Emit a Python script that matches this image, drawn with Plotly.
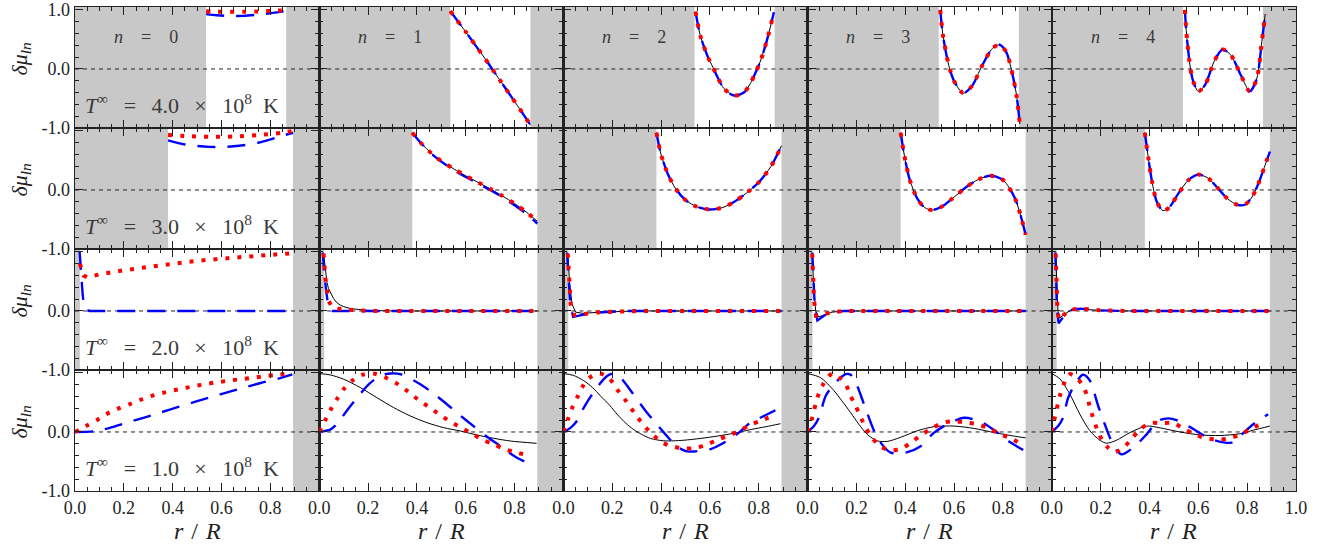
import plotly.graph_objects as go
from plotly.subplots import make_subplots

# ---------------- data ----------------
temperature_labels = ["4.0", "3.0", "2.0", "1.0"]   # T^inf / 1e8 K, rows top -> bottom
mode_numbers = [0, 1, 2, 3, 4]                       # columns
shade_left = [0.537, 0.381, 0.02, 0.0]               # r/R where unshaded region begins
shade_right = [0.865, 0.893, 0.893, 0.893]           # r/R where unshaded region ends
x_tick_vals = [0.0, 0.2, 0.4, 0.6, 0.8]
x_tick_text = ["0.0", "0.2", "0.4", "0.6", "0.8"]
y_tick_vals = [-1.0, 0.0, 1.0]
y_tick_text = ["-1.0", "0.0", "1.0"]

# ---- row 1: T = 4.0e8 K ----
T4_n0_r = [0.537, 0.58, 0.62, 0.69, 0.745, 0.81, 0.86]
T4_n0_blue = [0.93, 0.91, 0.90, 0.90, 0.92, 0.95, 0.98]
T4_n0_red = [0.98, 0.97, 0.97, 0.97, 0.975, 0.985, 0.995]

T4_n1_r = [0.537, 0.56, 0.60, 0.64, 0.68, 0.71, 0.74, 0.78, 0.82, 0.865]
T4_n1_v = [0.98, 0.85, 0.63, 0.40, 0.17, -0.01, -0.19, -0.43, -0.67, -0.95]

T4_n2_r = [0.541, 0.561, 0.59, 0.612, 0.635, 0.657, 0.698, 0.739, 0.765, 0.787, 0.81, 0.835, 0.862]
T4_n2_v = [0.97, 0.56, 0.22, 0.03, -0.17, -0.33, -0.45, -0.40, -0.25, -0.06, 0.17, 0.51, 0.96]

T4_n3_r = [0.543, 0.554, 0.568, 0.582, 0.603, 0.638, 0.673, 0.715, 0.757, 0.785, 0.813, 0.834, 0.855, 0.869]
T4_n3_v = [1.0, 0.58, 0.25, 0.0, -0.23, -0.41, -0.29, 0.06, 0.35, 0.41, 0.29, 0.0, -0.43, -0.93]

T4_n4_r = [0.545, 0.552, 0.568, 0.58, 0.60, 0.629, 0.664, 0.699, 0.734, 0.776, 0.811, 0.839, 0.86, 0.874]
T4_n4_v = [1.0, 0.58, 0.0, -0.22, -0.38, -0.26, 0.12, 0.33, 0.23, -0.12, -0.38, -0.17, 0.46, 0.93]

# ---- row 2: T = 3.0e8 K ----
T3_n0_r = [0.381, 0.45, 0.55, 0.65, 0.75, 0.85, 0.893]
T3_n0_red = [0.93, 0.915, 0.90, 0.905, 0.93, 0.97, 1.0]
T3_n0_blue = [0.84, 0.77, 0.73, 0.74, 0.80, 0.92, 0.97]

T3_n1_r = [0.381, 0.42, 0.46, 0.50, 0.55, 0.60, 0.65, 0.70, 0.75, 0.80, 0.85, 0.893]
T3_n1_v = [0.97, 0.78, 0.62, 0.49, 0.36, 0.24, 0.13, 0.02, -0.10, -0.23, -0.38, -0.53]
T3_n1_blue = [0.97, 0.78, 0.61, 0.48, 0.34, 0.22, 0.11, 0.0, -0.12, -0.26, -0.41, -0.57]

T3_n2_r = [0.381, 0.40, 0.43, 0.46, 0.50, 0.55, 0.60, 0.65, 0.70, 0.75, 0.80, 0.85, 0.893]
T3_n2_v = [0.97, 0.60, 0.25, 0.02, -0.17, -0.29, -0.33, -0.30, -0.20, -0.05, 0.13, 0.40, 0.75]

T3_n3_r = [0.381, 0.40, 0.42, 0.45, 0.48, 0.51, 0.55, 0.60, 0.65, 0.70, 0.75, 0.80, 0.85, 0.893]
T3_n3_v = [0.97, 0.50, 0.15, -0.15, -0.30, -0.34, -0.28, -0.12, 0.05, 0.18, 0.24, 0.17, -0.15, -0.76]

T3_n4_r = [0.381, 0.395, 0.41, 0.43, 0.455, 0.48, 0.52, 0.56, 0.60, 0.64, 0.68, 0.72, 0.76, 0.79, 0.82, 0.85, 0.87, 0.893]
T3_n4_v = [0.97, 0.55, 0.15, -0.20, -0.35, -0.30, -0.05, 0.17, 0.26, 0.20, 0.03, -0.15, -0.25, -0.25, -0.12, 0.15, 0.38, 0.65]

# ---- row 3: T = 2.0e8 K ----
T2_n0_red_r = [0.02, 0.035, 0.05, 0.10, 0.20, 0.30, 0.40, 0.50, 0.60, 0.70, 0.80, 0.89]
T2_n0_red_v = [0.80, 0.60, 0.57, 0.62, 0.69, 0.75, 0.80, 0.85, 0.89, 0.92, 0.95, 0.98]
T2_n0_blue_r = [0.019, 0.022, 0.027, 0.031, 0.036, 0.045, 0.06, 0.893]
T2_n0_blue_v = [1.0, 0.80, 0.55, 0.30, 0.10, 0.02, 0.0, 0.0]

T2_n1_black_r = [0.018, 0.025, 0.032, 0.038, 0.05, 0.059, 0.07, 0.086, 0.10, 0.127, 0.15, 0.20, 0.30, 0.893]
T2_n1_black_v = [0.97, 0.66, 0.48, 0.38, 0.27, 0.21, 0.15, 0.10, 0.075, 0.04, 0.03, 0.01, 0.0, 0.0]
T2_n1_blue_r = [0.015, 0.02, 0.029, 0.038, 0.045, 0.055, 0.893]
T2_n1_blue_v = [0.99, 0.66, 0.32, 0.07, 0.02, 0.0, 0.0]
T2_n1_red_r = [0.018, 0.02, 0.025, 0.031, 0.038, 0.05, 0.072, 0.12, 0.20, 0.893]
T2_n1_red_v = [0.97, 0.77, 0.56, 0.38, 0.18, 0.08, 0.04, 0.02, 0.0, 0.0]

T2_n2_black_r = [0.018, 0.025, 0.035, 0.05, 0.08, 0.15, 0.30, 0.893]
T2_n2_black_v = [0.97, 0.50, 0.12, -0.02, -0.04, -0.02, 0.0, 0.0]
T2_n2_blue_r = [0.015, 0.02, 0.028, 0.04, 0.07, 0.12, 0.25, 0.893]
T2_n2_blue_v = [0.99, 0.55, 0.10, -0.10, -0.07, -0.03, 0.0, 0.0]
T2_n2_red_r = [0.018, 0.022, 0.03, 0.045, 0.08, 0.15, 0.30, 0.893]
T2_n2_red_v = [0.97, 0.60, 0.10, -0.07, -0.05, -0.02, 0.0, 0.0]

T2_n3_black_r = [0.019, 0.025, 0.033, 0.045, 0.06, 0.10, 0.15, 0.893]
T2_n3_black_v = [0.97, 0.40, 0.0, -0.10, -0.08, -0.02, 0.0, 0.0]
T2_n3_blue_r = [0.019, 0.023, 0.029, 0.04, 0.067, 0.108, 0.15, 0.893]
T2_n3_blue_v = [0.99, 0.55, 0.10, -0.16, -0.08, -0.02, 0.0, 0.0]
T2_n3_red_r = [0.019, 0.022, 0.026, 0.034, 0.05, 0.10, 0.15, 0.893]
T2_n3_red_v = [0.97, 0.60, 0.20, -0.08, -0.07, -0.02, 0.0, 0.0]

T2_n4_black_r = [0.016, 0.02, 0.025, 0.032, 0.05, 0.08, 0.12, 0.20, 0.30, 0.893]
T2_n4_black_v = [0.97, 0.50, 0.0, -0.12, -0.06, 0.02, 0.03, 0.01, 0.0, 0.0]
T2_n4_blue_r = [0.015, 0.018, 0.021, 0.028, 0.046, 0.066, 0.115, 0.20, 0.30, 0.893]
T2_n4_blue_v = [0.99, 0.55, 0.05, -0.21, -0.10, 0.01, 0.04, 0.01, 0.0, 0.0]
T2_n4_red_r = [0.016, 0.019, 0.023, 0.03, 0.045, 0.07, 0.12, 0.20, 0.30, 0.893]
T2_n4_red_v = [0.97, 0.55, 0.0, -0.15, -0.08, 0.02, 0.04, 0.01, 0.0, 0.0]

# ---- row 4: T = 1.0e8 K ----
T1_n0_red_r = [0.0, 0.045, 0.089, 0.127, 0.171, 0.22, 0.264, 0.31, 0.357, 0.404, 0.45, 0.50, 0.547, 0.594, 0.64, 0.69, 0.74, 0.786, 0.83, 0.88]
T1_n0_red_v = [0.0, 0.10, 0.20, 0.30, 0.385, 0.465, 0.54, 0.605, 0.66, 0.705, 0.745, 0.785, 0.82, 0.85, 0.875, 0.90, 0.925, 0.95, 0.97, 0.995]
T1_n0_blue_r = [0.0, 0.075, 0.143, 0.198, 0.28, 0.35, 0.42, 0.49, 0.56, 0.63, 0.70, 0.76, 0.83, 0.89]
T1_n0_blue_v = [0.0, 0.01, 0.07, 0.14, 0.24, 0.33, 0.42, 0.51, 0.595, 0.68, 0.76, 0.83, 0.90, 0.975]

T1_n1_black_r = [0.0, 0.045, 0.10, 0.168, 0.236, 0.305, 0.373, 0.441, 0.51, 0.578, 0.646, 0.714, 0.783, 0.89]
T1_n1_black_v = [0.99, 0.967, 0.894, 0.753, 0.582, 0.413, 0.271, 0.158, 0.073, 0.017, -0.051, -0.107, -0.153, -0.192]
T1_n1_red_r = [0.0, 0.0246, 0.0478, 0.072, 0.0997, 0.134, 0.175, 0.222, 0.266, 0.311, 0.352, 0.389, 0.427, 0.468, 0.507, 0.548, 0.589, 0.63, 0.671, 0.714, 0.762, 0.81, 0.854]
T1_n1_red_v = [0.0, 0.198, 0.385, 0.554, 0.723, 0.865, 0.967, 0.99, 0.933, 0.837, 0.723, 0.599, 0.486, 0.368, 0.255, 0.147, 0.057, -0.039, -0.135, -0.208, -0.293, -0.35, -0.395]
T1_n1_blue_r = [0.0, 0.045, 0.072, 0.113, 0.161, 0.206, 0.25, 0.291, 0.332, 0.414, 0.462, 0.523, 0.571, 0.632, 0.687, 0.742, 0.803, 0.871]
T1_n1_blue_v = [0.0, 0.04, 0.13, 0.36, 0.61, 0.82, 0.95, 0.99, 0.98, 0.81, 0.67, 0.47, 0.30, 0.10, -0.08, -0.24, -0.42, -0.56]

T1_n2_black_r = [0.0, 0.04, 0.083, 0.12, 0.152, 0.19, 0.22, 0.255, 0.288, 0.32, 0.357, 0.411, 0.45, 0.493, 0.56, 0.63, 0.70, 0.766, 0.83, 0.889]
T1_n2_black_v = [0.99, 0.96, 0.87, 0.75, 0.61, 0.45, 0.30, 0.15, 0.04, -0.04, -0.11, -0.15, -0.15, -0.14, -0.11, -0.07, -0.02, 0.04, 0.09, 0.14]
T1_n2_red_r = [0.0, 0.018, 0.036, 0.056, 0.077, 0.108, 0.149, 0.19, 0.22, 0.25, 0.305, 0.336, 0.37, 0.404, 0.452, 0.493, 0.541, 0.589, 0.637, 0.684, 0.725, 0.766, 0.814, 0.855]
T1_n2_red_v = [0.0, 0.21, 0.41, 0.58, 0.76, 0.92, 0.99, 0.90, 0.72, 0.56, 0.24, 0.08, -0.06, -0.18, -0.25, -0.28, -0.27, -0.21, -0.12, -0.05, 0.03, 0.12, 0.20, 0.27]
T1_n2_blue_r = [0.0, 0.029, 0.056, 0.083, 0.131, 0.179, 0.206, 0.234, 0.281, 0.336, 0.37, 0.418, 0.466, 0.507, 0.534, 0.603, 0.671, 0.719, 0.76, 0.821, 0.889]
T1_n2_blue_v = [0.0, 0.07, 0.19, 0.41, 0.72, 0.95, 0.99, 0.92, 0.67, 0.36, 0.19, -0.04, -0.25, -0.33, -0.33, -0.29, -0.15, -0.01, 0.14, 0.27, 0.41]

T1_n3_black_r = [0.0, 0.053, 0.108, 0.14, 0.176, 0.21, 0.244, 0.285, 0.326, 0.381, 0.449, 0.518, 0.60, 0.682, 0.764, 0.846, 0.893]
T1_n3_black_v = [0.99, 0.92, 0.70, 0.53, 0.33, 0.13, -0.04, -0.15, -0.16, -0.09, 0.02, 0.09, 0.10, 0.06, -0.01, -0.07, -0.10]
T1_n3_red_r = [0.0, 0.019, 0.04, 0.06, 0.087, 0.105, 0.128, 0.156, 0.176, 0.197, 0.238, 0.265, 0.299, 0.343, 0.381, 0.429, 0.47, 0.511, 0.559, 0.60, 0.647, 0.695, 0.743, 0.791, 0.839, 0.88]
T1_n3_red_v = [0.0, 0.24, 0.58, 0.78, 0.95, 0.99, 0.93, 0.81, 0.61, 0.44, 0.07, -0.10, -0.25, -0.31, -0.29, -0.16, -0.04, 0.07, 0.16, 0.18, 0.16, 0.13, 0.06, -0.04, -0.12, -0.22]
T1_n3_blue_r = [0.0, 0.026, 0.046, 0.074, 0.108, 0.156, 0.176, 0.203, 0.231, 0.272, 0.299, 0.34, 0.402, 0.463, 0.518, 0.559, 0.641, 0.716, 0.777, 0.832, 0.893]
T1_n3_blue_v = [0.0, 0.10, 0.24, 0.61, 0.81, 0.98, 0.97, 0.78, 0.47, 0.02, -0.18, -0.35, -0.35, -0.24, -0.01, 0.10, 0.24, 0.16, -0.01, -0.18, -0.33]

T1_n4_black_r = [0.0, 0.033, 0.074, 0.115, 0.156, 0.197, 0.224, 0.265, 0.32, 0.388, 0.443, 0.525, 0.607, 0.689, 0.77, 0.825, 0.893]
T1_n4_black_v = [0.99, 0.90, 0.64, 0.30, 0.02, -0.14, -0.19, -0.14, -0.01, 0.10, 0.07, 0.0, -0.05, -0.06, -0.03, 0.03, 0.10]
T1_n4_red_r = [0.0, 0.012, 0.033, 0.049, 0.074, 0.108, 0.135, 0.162, 0.194, 0.224, 0.258, 0.30, 0.33, 0.363, 0.404, 0.449, 0.497, 0.538, 0.586, 0.627, 0.675, 0.723, 0.768, 0.811, 0.852]
T1_n4_red_v = [0.0, 0.24, 0.61, 0.81, 0.98, 0.89, 0.72, 0.33, -0.04, -0.24, -0.34, -0.24, -0.10, 0.05, 0.15, 0.15, 0.15, 0.06, -0.04, -0.10, -0.13, -0.11, -0.05, 0.04, 0.13]
T1_n4_blue_r = [0.0, 0.026, 0.046, 0.067, 0.101, 0.128, 0.156, 0.19, 0.217, 0.251, 0.285, 0.34, 0.388, 0.436, 0.477, 0.511, 0.572, 0.627, 0.675, 0.736, 0.77, 0.825, 0.886]
T1_n4_blue_v = [0.0, 0.10, 0.24, 0.58, 0.85, 0.97, 0.87, 0.44, 0.13, -0.21, -0.38, -0.24, -0.04, 0.19, 0.23, 0.20, 0.07, -0.07, -0.15, -0.18, -0.07, 0.13, 0.30]

# (row, col, series, r, value) -- which list goes in which panel
SERIES = [
    (1, 1, "blue", T4_n0_r, T4_n0_blue), (1, 1, "red", T4_n0_r, T4_n0_red),
    (1, 2, "black", T4_n1_r, T4_n1_v), (1, 2, "blue", T4_n1_r, T4_n1_v), (1, 2, "red", T4_n1_r, T4_n1_v),
    (1, 3, "black", T4_n2_r, T4_n2_v), (1, 3, "blue", T4_n2_r, T4_n2_v), (1, 3, "red", T4_n2_r, T4_n2_v),
    (1, 4, "black", T4_n3_r, T4_n3_v), (1, 4, "blue", T4_n3_r, T4_n3_v), (1, 4, "red", T4_n3_r, T4_n3_v),
    (1, 5, "black", T4_n4_r, T4_n4_v), (1, 5, "blue", T4_n4_r, T4_n4_v), (1, 5, "red", T4_n4_r, T4_n4_v),
    (2, 1, "blue", T3_n0_r, T3_n0_blue), (2, 1, "red", T3_n0_r, T3_n0_red),
    (2, 2, "black", T3_n1_r, T3_n1_v), (2, 2, "blue", T3_n1_r, T3_n1_blue), (2, 2, "red", T3_n1_r, T3_n1_v),
    (2, 3, "black", T3_n2_r, T3_n2_v), (2, 3, "blue", T3_n2_r, T3_n2_v), (2, 3, "red", T3_n2_r, T3_n2_v),
    (2, 4, "black", T3_n3_r, T3_n3_v), (2, 4, "blue", T3_n3_r, T3_n3_v), (2, 4, "red", T3_n3_r, T3_n3_v),
    (2, 5, "black", T3_n4_r, T3_n4_v), (2, 5, "blue", T3_n4_r, T3_n4_v), (2, 5, "red", T3_n4_r, T3_n4_v),
    (3, 1, "blue", T2_n0_blue_r, T2_n0_blue_v), (3, 1, "red", T2_n0_red_r, T2_n0_red_v),
    (3, 2, "black", T2_n1_black_r, T2_n1_black_v), (3, 2, "blue", T2_n1_blue_r, T2_n1_blue_v), (3, 2, "red", T2_n1_red_r, T2_n1_red_v),
    (3, 3, "black", T2_n2_black_r, T2_n2_black_v), (3, 3, "blue", T2_n2_blue_r, T2_n2_blue_v), (3, 3, "red", T2_n2_red_r, T2_n2_red_v),
    (3, 4, "black", T2_n3_black_r, T2_n3_black_v), (3, 4, "blue", T2_n3_blue_r, T2_n3_blue_v), (3, 4, "red", T2_n3_red_r, T2_n3_red_v),
    (3, 5, "black", T2_n4_black_r, T2_n4_black_v), (3, 5, "blue", T2_n4_blue_r, T2_n4_blue_v), (3, 5, "red", T2_n4_red_r, T2_n4_red_v),
    (4, 1, "blue", T1_n0_blue_r, T1_n0_blue_v), (4, 1, "red", T1_n0_red_r, T1_n0_red_v),
    (4, 2, "black", T1_n1_black_r, T1_n1_black_v), (4, 2, "blue", T1_n1_blue_r, T1_n1_blue_v), (4, 2, "red", T1_n1_red_r, T1_n1_red_v),
    (4, 3, "black", T1_n2_black_r, T1_n2_black_v), (4, 3, "blue", T1_n2_blue_r, T1_n2_blue_v), (4, 3, "red", T1_n2_red_r, T1_n2_red_v),
    (4, 4, "black", T1_n3_black_r, T1_n3_black_v), (4, 4, "blue", T1_n3_blue_r, T1_n3_blue_v), (4, 4, "red", T1_n3_red_r, T1_n3_red_v),
    (4, 5, "black", T1_n4_black_r, T1_n4_black_v), (4, 5, "blue", T1_n4_blue_r, T1_n4_blue_v), (4, 5, "red", T1_n4_red_r, T1_n4_red_v),
]

# ---------------- figure ----------------
W, H = 1324, 550
M_L, M_R, M_T, M_B = 75, 28, 7, 59
NR, NC = 4, 5
Y_RANGE = [-1.0, 1.05]
SERIF = "Liberation Serif, DejaVu Serif, serif"
AXC = "#222222"
TXT = "#3a3a3a"

fig = make_subplots(rows=NR, cols=NC, horizontal_spacing=0, vertical_spacing=0)

line_style = {
    "black": dict(color="#000000", width=1.0),
    "blue": dict(color="#0000ff", width=2.4, dash="18px,12px"),
    "red": dict(color="#ff0000", width=4.0, dash="4px,8px"),
}
order = {"black": 0, "blue": 1, "red": 2}
for row, col, kind, rr, vv in sorted(SERIES, key=lambda s: order[s[2]]):
    # the sharp near-centre spikes of the 2e8 K row are drawn piecewise-linear to avoid spline overshoot
    shape = dict(shape="linear") if row == 3 else dict(shape="spline", smoothing=0.8)
    fig.add_trace(
        go.Scatter(x=rr, y=vv, mode="lines",
                   line=dict(**shape, **line_style[kind]),
                   showlegend=False, hoverinfo="skip", cliponaxis=True),
        row=row, col=col)


def ax_id(row, col):
    k = (row - 1) * NC + col
    return "" if k == 1 else str(k)


shapes = []
annotations = []
for row in range(1, NR + 1):
    for col in range(1, NC + 1):
        a = ax_id(row, col)
        xr, yr = "x" + a, "y" + a
        # shaded (excluded) regions
        if shade_left[row - 1] > 0:
            shapes.append(dict(type="rect", xref=xr, yref=yr + " domain", x0=0, x1=shade_left[row - 1],
                               y0=0, y1=1, fillcolor="#c8c8c8", line=dict(width=0), layer="below"))
        shapes.append(dict(type="rect", xref=xr, yref=yr + " domain", x0=shade_right[row - 1], x1=1.0,
                           y0=0, y1=1, fillcolor="#c8c8c8", line=dict(width=0), layer="below"))
        # zero line
        shapes.append(dict(type="line", xref=xr + " domain", yref=yr, x0=0, x1=1, y0=0, y1=0,
                           line=dict(color=AXC, width=1, dash="4px,4px"), layer="below"))

        tv = list(x_tick_vals) + ([1.0] if col == NC else [])
        tt = list(x_tick_text) + (["1.0"] if col == NC else [])
        fig.update_xaxes(row=row, col=col, range=[0, 1], tickmode="array", tickvals=tv, ticktext=tt,
                         showticklabels=(row == NR), ticks="inside", ticklen=8, tickwidth=1, tickcolor=AXC,
                         minor=dict(dtick=0.05, tick0=0, ticks="inside", ticklen=4, tickwidth=1, tickcolor=AXC),
                         showline=True, linecolor=AXC, linewidth=1.3, mirror="allticks",
                         showgrid=False, zeroline=False, automargin=False,
                         tickfont=dict(family=SERIF, size=18, color=AXC))
        ytt = list(y_tick_text) if row == 1 else [y_tick_text[0], y_tick_text[1], ""]
        fig.update_yaxes(row=row, col=col, range=Y_RANGE, tickmode="array", tickvals=y_tick_vals, ticktext=ytt,
                         showticklabels=(col == 1), ticks="inside", ticklen=8, tickwidth=1, tickcolor=AXC,
                         minor=dict(dtick=0.2, tick0=0, ticks="inside", ticklen=4, tickwidth=1, tickcolor=AXC),
                         showline=True, linecolor=AXC, linewidth=1.3, mirror="allticks",
                         showgrid=False, zeroline=False, automargin=False,
                         tickfont=dict(family=SERIF, size=18, color=AXC))

# mode labels (top row)
for col in range(1, NC + 1):
    a = ax_id(1, col)
    annotations.append(dict(xref="x" + a, yref="y" + a, x=0.29, y=0.55, showarrow=False,
                            text="<i>n</i>\u2003=\u2003" + str(mode_numbers[col - 1]),
                            font=dict(family=SERIF, size=18, color=TXT)))
# temperature labels (first column)
for row in range(1, NR + 1):
    a = ax_id(row, 1)
    annotations.append(dict(xref="x" + a, yref="y" + a, x=0.44, y=-0.6, showarrow=False,
                            text="<i>T</i><sup>\u221e</sup>\u2002\u2009=\u2002\u2009" + temperature_labels[row - 1]
                                 + "\u2002\u2009\u00d7\u2002\u200910<sup>8</sup>\u2002K",
                            font=dict(family=SERIF, size=22, color=TXT)))
# y titles
plot_h = H - M_T - M_B
for row in range(1, NR + 1):
    yc_px = M_T + plot_h * (row - 0.5) / NR - 9
    annotations.append(dict(xref="paper", yref="paper", x=(20 - M_L) / (W - M_L - M_R),
                            y=1 - (yc_px - M_T) / plot_h, showarrow=False, textangle=-90,
                            xanchor="center", yanchor="middle",
                            text="<i>\u03b4\u03bc<sub>ln</sub></i>",
                            font=dict(family=SERIF, size=22, color=AXC)))
# x titles
for col in range(1, NC + 1):
    annotations.append(dict(xref="paper", yref="paper", x=(col - 0.5) / NC,
                            y=-(531 - (H - M_B)) / plot_h, showarrow=False,
                            xanchor="center", yanchor="middle",
                            text="<i>r</i>\u2004/\u2004<i>R</i>",
                            font=dict(family=SERIF, size=24, color=AXC)))

fig.update_layout(width=W, height=H, margin=dict(l=M_L, r=M_R, t=M_T, b=M_B, autoexpand=False),
                  plot_bgcolor="white", paper_bgcolor="white",
                  shapes=shapes, annotations=annotations, showlegend=False)

fig.write_html("out.html", config={"displayModeBar": False, "staticPlot": True},
               post_script="document.body.style.margin='0px';document.body.style.overflow='hidden';")
